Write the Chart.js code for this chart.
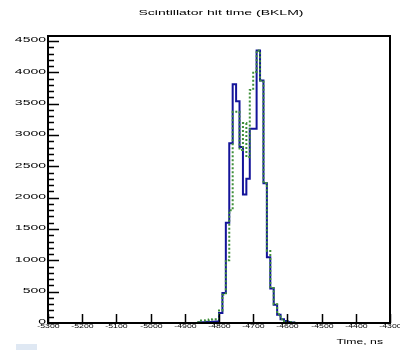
<!DOCTYPE html>
<html>
<head>
<meta charset="utf-8">
<script src="https://cdn.jsdelivr.net/npm/chart.js@4"></script>
<style>
  html, body { margin: 0; padding: 0; background: #fff; }
</style>
</head>
<body>
<canvas id="myChart" width="400" height="350"></canvas>
<script>
// bin edges of the histogram (ns), 10 ns bins
var timeEdges = [-4860, -4850, -4840, -4830, -4820, -4810, -4800, -4790, -4780, -4770,
                 -4760, -4750, -4740, -4730, -4720, -4710, -4700, -4690, -4680, -4670,
                 -4660, -4650, -4640, -4630, -4620, -4610, -4600, -4590, -4580];
// dark blue solid histogram
var hitsBlue = [10, 12, 15, 15, 20, 25, 160, 480, 1600, 2870,
                3810, 3540, 2810, 2050, 2300, 3100, 3100, 4350, 3870, 2230,
                1050, 550, 290, 130, 60, 30, 15, 8];
// green dotted histogram
var hitsGreen = [40, 40, 45, 55, 60, 60, 200, 450, 1000, 1800,
                 3370, 3370, 2760, 3190, 2650, 3720, 4010, 4350, 3870, 2230,
                 1150, 560, 300, 140, 60, 30, 15, 8];
var xTicks = [-5300, -5200, -5100, -5000, -4900, -4800, -4700, -4600, -4500, -4400, -4300];
var yTicks = [0, 500, 1000, 1500, 2000, 2500, 3000, 3500, 4000, 4500];

var TEXT_STRETCH = 1.75;

function histPoints(counts){
  var pts = [{x: timeEdges[0], y: 0}];
  for (var i = 0; i < counts.length; i++) {
    pts.push({x: timeEdges[i], y: counts[i]});
  }
  pts.push({x: timeEdges[counts.length], y: 0});
  return pts;
}

function stretchedText(ctx, txt, x, y, size, align){
  ctx.save();
  ctx.font = size + 'px "Liberation Sans", Arial, sans-serif';
  ctx.textBaseline = 'middle';
  ctx.textAlign = align;
  ctx.translate(x, y);
  ctx.scale(TEXT_STRETCH, 1);
  ctx.fillText(txt, 0, 0);
  ctx.restore();
}

// ROOT-like frame, inward ticks and labels
var rootFrame = {
  id: 'rootFrame',
  afterDraw: function(chart){
    var ctx = chart.ctx;
    var area = chart.chartArea;
    var xs = chart.scales.x;
    var ys = chart.scales.y;
    ctx.save();
    ctx.strokeStyle = '#000';
    ctx.fillStyle = '#000';
    ctx.lineWidth = 2;
    ctx.strokeRect(area.left, area.top, area.right - area.left, area.bottom - area.top);

    // y ticks, major and minor
    ctx.lineWidth = 1.5;
    for (var v = 0; v <= 4500; v += 100) {
      var py = Math.round(ys.getPixelForValue(v)) + 0.5;
      var len = (v % 500 === 0) ? 11 : 6;
      ctx.beginPath();
      ctx.moveTo(area.left, py);
      ctx.lineTo(area.left + len, py);
      ctx.stroke();
    }
    yTicks.forEach(function(t){
      stretchedText(ctx, String(t), area.left - 2, ys.getPixelForValue(t) - 1, 8, 'right');
    });

    // x ticks
    xTicks.forEach(function(t){
      var px = Math.round(xs.getPixelForValue(t)) + 0.5;
      ctx.beginPath();
      ctx.moveTo(px, area.bottom);
      ctx.lineTo(px, area.bottom - 9);
      ctx.stroke();
      stretchedText(ctx, String(t), px, area.bottom + 4, 5, 'center');
    });

    stretchedText(ctx, 'Scintillator hit time (BKLM)', 221, 13, 8, 'center');
    stretchedText(ctx, 'Time, ns', 383, 342, 7, 'right');

    ctx.fillStyle = '#dfe8f3';
    ctx.fillRect(16, 344, 21, 6);
    ctx.restore();
  }
};

var ctx = document.getElementById('myChart');
var myChart = new Chart(ctx, {
  type: 'line',
  data: {
    datasets: [
      {
        label: 'green',
        data: histPoints(hitsGreen),
        stepped: true,
        borderColor: '#3f8f3a',
        borderWidth: 2,
        borderDash: [2, 2],
        pointRadius: 0,
        fill: false
      },
      {
        label: 'blue',
        data: histPoints(hitsBlue),
        stepped: true,
        borderColor: '#14149a',
        borderWidth: 2,
        pointRadius: 0,
        fill: false
      }
    ]
  },
  options: {
    responsive: false,
    animation: false,
    devicePixelRatio: 1,
    layout: {padding: {left: 48, right: 10, top: 36, bottom: 27}},
    plugins: {legend: {display: false}, tooltip: {enabled: false}, title: {display: false}},
    scales: {
      x: {type: 'linear', min: -5300, max: -4300, display: false},
      y: {min: 0, max: 4580, display: false}
    }
  },
  plugins: [rootFrame]
});
</script>
</body>
</html>
